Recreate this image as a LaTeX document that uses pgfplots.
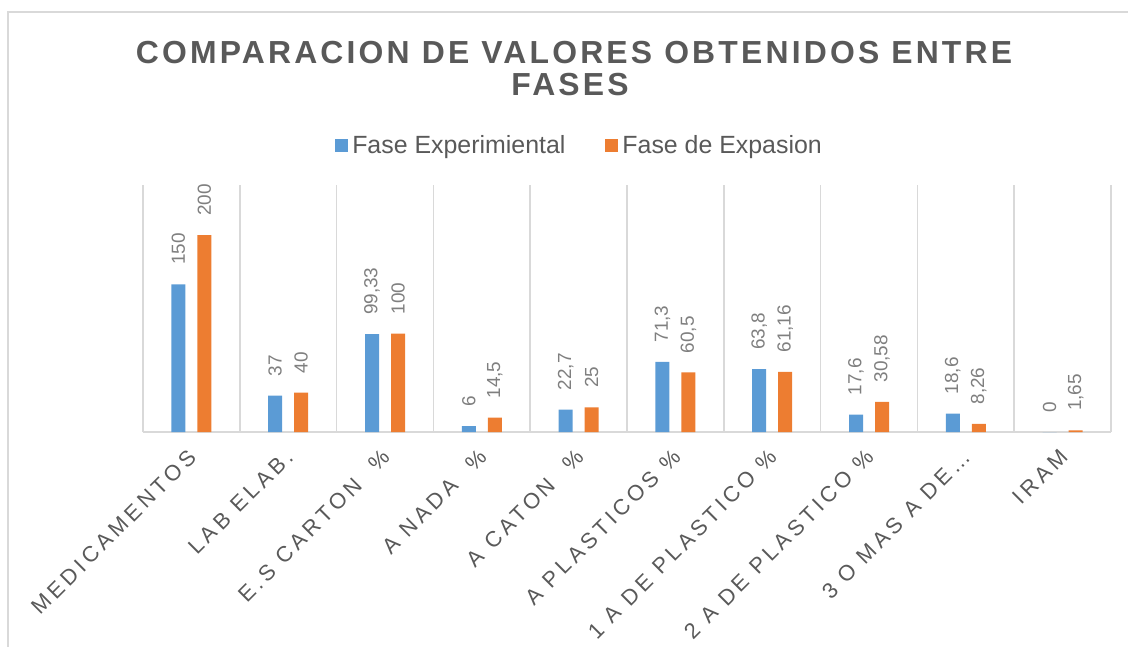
\documentclass[border=0pt]{standalone}
\usepackage{fontspec}
\setmainfont{Liberation Sans}
\newfontfamily\titlefont[LetterSpace=10]{Liberation Sans}
\newfontfamily\tickfont[LetterSpace=18]{Liberation Sans}
\usepackage{pgfplots}
\pgfplotsset{compat=1.18}
\definecolor{cblue}{HTML}{5B9BD5}
\definecolor{corange}{HTML}{ED7D31}
\definecolor{cgrid}{HTML}{D9D9D9}
\definecolor{cdark}{HTML}{595959}
\definecolor{clab}{HTML}{7F7F7F}
\begin{document}
\begin{tikzpicture}[x=0.5bp,y=0.5bp]
\path[use as bounding box] (0,0) rectangle (1128,646);
\draw[cgrid, line width=1.2bp] (8,-5) -- (8,634) -- (1135,634);
\node[anchor=base, text=cdark, font=\titlefont\bfseries\fontsize{16}{19}\selectfont] at (574,582) {COMPARACION DE VALORES OBTENIDOS ENTRE};
\node[anchor=base, text=cdark, font=\titlefont\bfseries\fontsize{16}{19}\selectfont] at (570,550) {FASES};
\coordinate (axpos) at (143,214);
\begin{axis}[
  at={(axpos)}, anchor=south west,
  scale only axis, width=484bp, height=123.5bp,
  xmin=-0.5, xmax=9.5, ymin=0, ymax=251,
  ybar=6bp, bar width=7bp,
  axis x line*=bottom, hide y axis,
  x axis line style={draw=cgrid, line width=1bp, -},
  xtick={0,1,2,3,4,5,6,7,8,9},
  xticklabels={{MEDICAMENTOS}, {LAB ELAB.}, {E.S CARTON\ \ \%}, {A NADA\ \ \%}, {A CATON\ \ \%}, {A PLASTICOS\ \%}, {1 A DE PLASTICO\ \%}, {2 A DE PLASTICO\ \%}, {3 O MAS A DE…}, {IRAM}},
  major tick length=0pt, minor tick length=0pt,
  minor xtick={-0.5,0.5,1.5,2.5,3.5,4.5,5.5,6.5,7.5,8.5,9.5},
  xminorgrids, minor grid style={draw=cgrid, line width=0.8bp},
  xticklabel style={rotate=45, anchor=east, inner sep=0pt, font=\tickfont\fontsize{11}{13}\selectfont, text=cdark, yshift=-8bp, xshift=-7bp},
  nodes near coords={\pgfmathprintnumber[use comma, assume math mode=true]{\pgfplotspointmeta}},
  every node near coord/.append style={rotate=90, anchor=west, inner xsep=9.5bp, inner ysep=0pt, font=\fontsize{9.5}{11}\selectfont, text=clab},
  clip=false,
  legend style={at={(0.452,1.158)}, anchor=center, draw=none, fill=none, font=\fontsize{12.5}{14}\selectfont, text=cdark, /tikz/every even column/.append style={column sep=18bp}},
  legend columns=2,
  legend image code/.code={\fill[#1] (0bp,-3.25bp) rectangle (6.5bp,3.25bp);},
]
\addplot[fill=cblue, draw=none] coordinates {(0,150) (1,37) (2,99.33) (3,6) (4,22.7) (5,71.3) (6,63.8) (7,17.6) (8,18.6) (9,0)};
\addplot[fill=corange, draw=none] coordinates {(0,200) (1,40) (2,100) (3,14.5) (4,25) (5,60.5) (6,61.16) (7,30.58) (8,8.26) (9,1.65)};
\legend{Fase Experimiental, Fase de Expasion}
\end{axis}
\end{tikzpicture}
\end{document}
